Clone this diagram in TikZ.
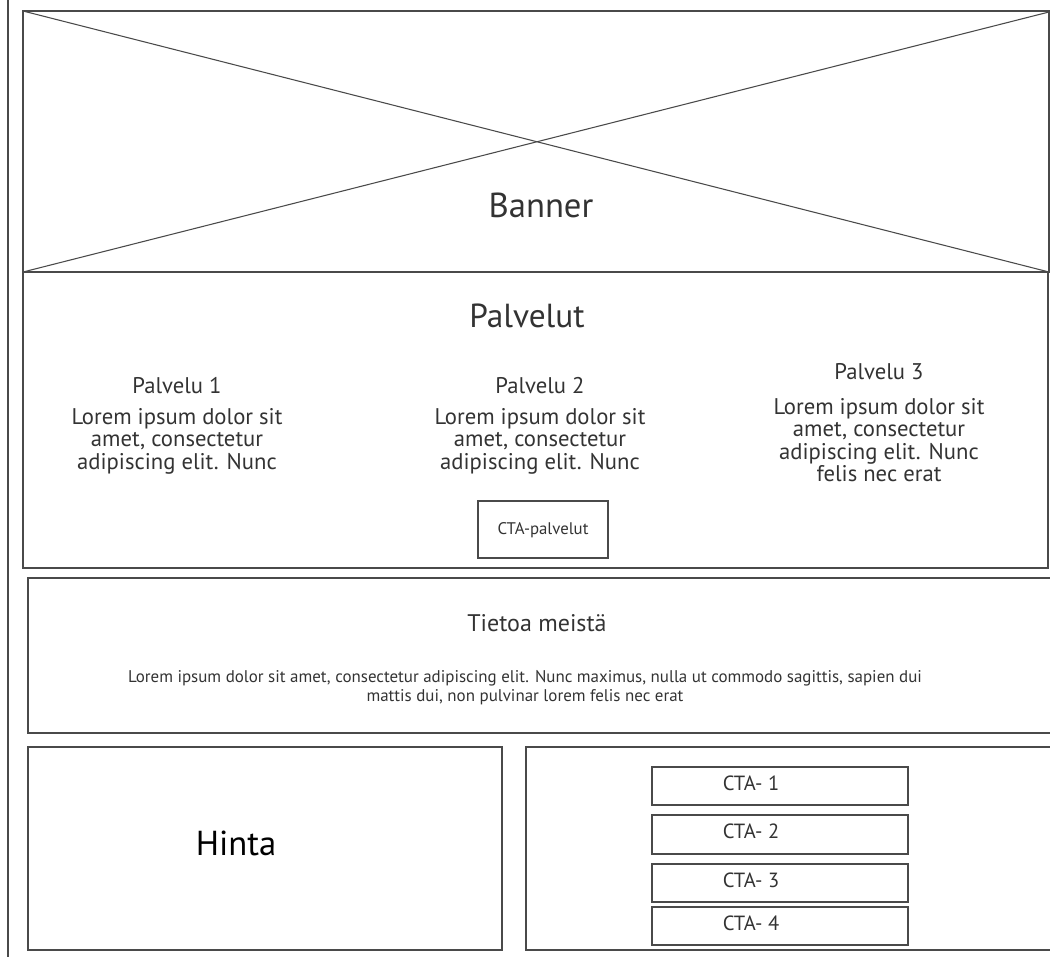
\documentclass[tikz,border=0pt]{standalone}
\usepackage{fontspec}
\setmainfont{PT Sans}
\usepackage{tikz}
\definecolor{frame}{HTML}{4A4A4A}
\definecolor{ink}{HTML}{333333}

\begin{document}
\begin{tikzpicture}[x=0.75pt, y=-0.75pt, line width=0.8pt,
    txt/.style={text=ink, inner sep=0pt, align=center},
    body/.style={txt, font=\fontsize{17}{16.9}\selectfont},
    ctabox/.style={draw=frame}]
  \clip (0,0) rectangle (1050,957);
  % the rule down the left side
  \draw[frame] (8,0) -- (8,957);
  % banner: an image placeholder with a cross
  \draw[frame] (23,11) rectangle (1049,272);
  \draw[frame] (23,11) -- (1049,272);
  \draw[frame] (23,272) -- (1049,12);
  \node[txt, font=\fontsize{26}{30}\selectfont] (banner) at (541,205) {Banner};
  % services
  \draw[frame] (23,272) rectangle (1048,568);
  \node[txt, font=\fontsize{25}{30}\selectfont] (palvelut) at (527,316) {Palvelut};
  \node[txt, font=\fontsize{17}{20}\selectfont] (p1) at (177,386) {Palvelu 1};
  \node[body] (p1txt) at (177,441) {Lorem ipsum dolor sit\\amet, consectetur\\adipiscing elit. Nunc};
  \node[txt, font=\fontsize{17}{20}\selectfont] (p2) at (540,386) {Palvelu 2};
  \node[body] (p2txt) at (540,441) {Lorem ipsum dolor sit\\amet, consectetur\\adipiscing elit. Nunc};
  \node[txt, font=\fontsize{17}{20}\selectfont] (p3) at (879,372) {Palvelu 3};
  \node[body] (p3txt) at (879,440) {Lorem ipsum dolor sit\\amet, consectetur\\adipiscing elit. Nunc\\felis nec erat};
  \draw[frame] (478,501) rectangle (608,558);
  \node[txt, font=\fontsize{12.6}{15}\selectfont] (ctap) at (543,530) {CTA-palvelut};
  % about us
  \draw[frame] (28,578) rectangle (1060,733);
  \node[txt, font=\fontsize{18}{21}\selectfont] (tietoa) at (537,623) {Tietoa meistä};
  \node[txt, font=\fontsize{12.7}{14.2}\selectfont] (tietoatxt) at (525,688)
    {Lorem ipsum dolor sit amet, consectetur adipiscing elit. Nunc maximus, nulla ut commodo sagittis, sapien dui\\
     mattis dui, non pulvinar lorem felis nec erat};
  % price and the calls to action
  \draw[frame] (28,747) rectangle (502,950);
  \node[txt, text=black, font=\fontsize{26}{30}\selectfont] (hinta) at (236,843) {Hinta};
  \draw[frame] (526,747) rectangle (1060,950);
  \foreach \i/\t/\b in {1/767/805, 2/815/854, 3/864/902, 4/907/945}{
    \draw[frame] (652,\t) rectangle (908,\b);
    \node[txt, font=\fontsize{15.4}{18}\selectfont] (cta\i) at (751,{(\t+\b)/2-3}) {CTA- \i};}
\end{tikzpicture}
\end{document}
